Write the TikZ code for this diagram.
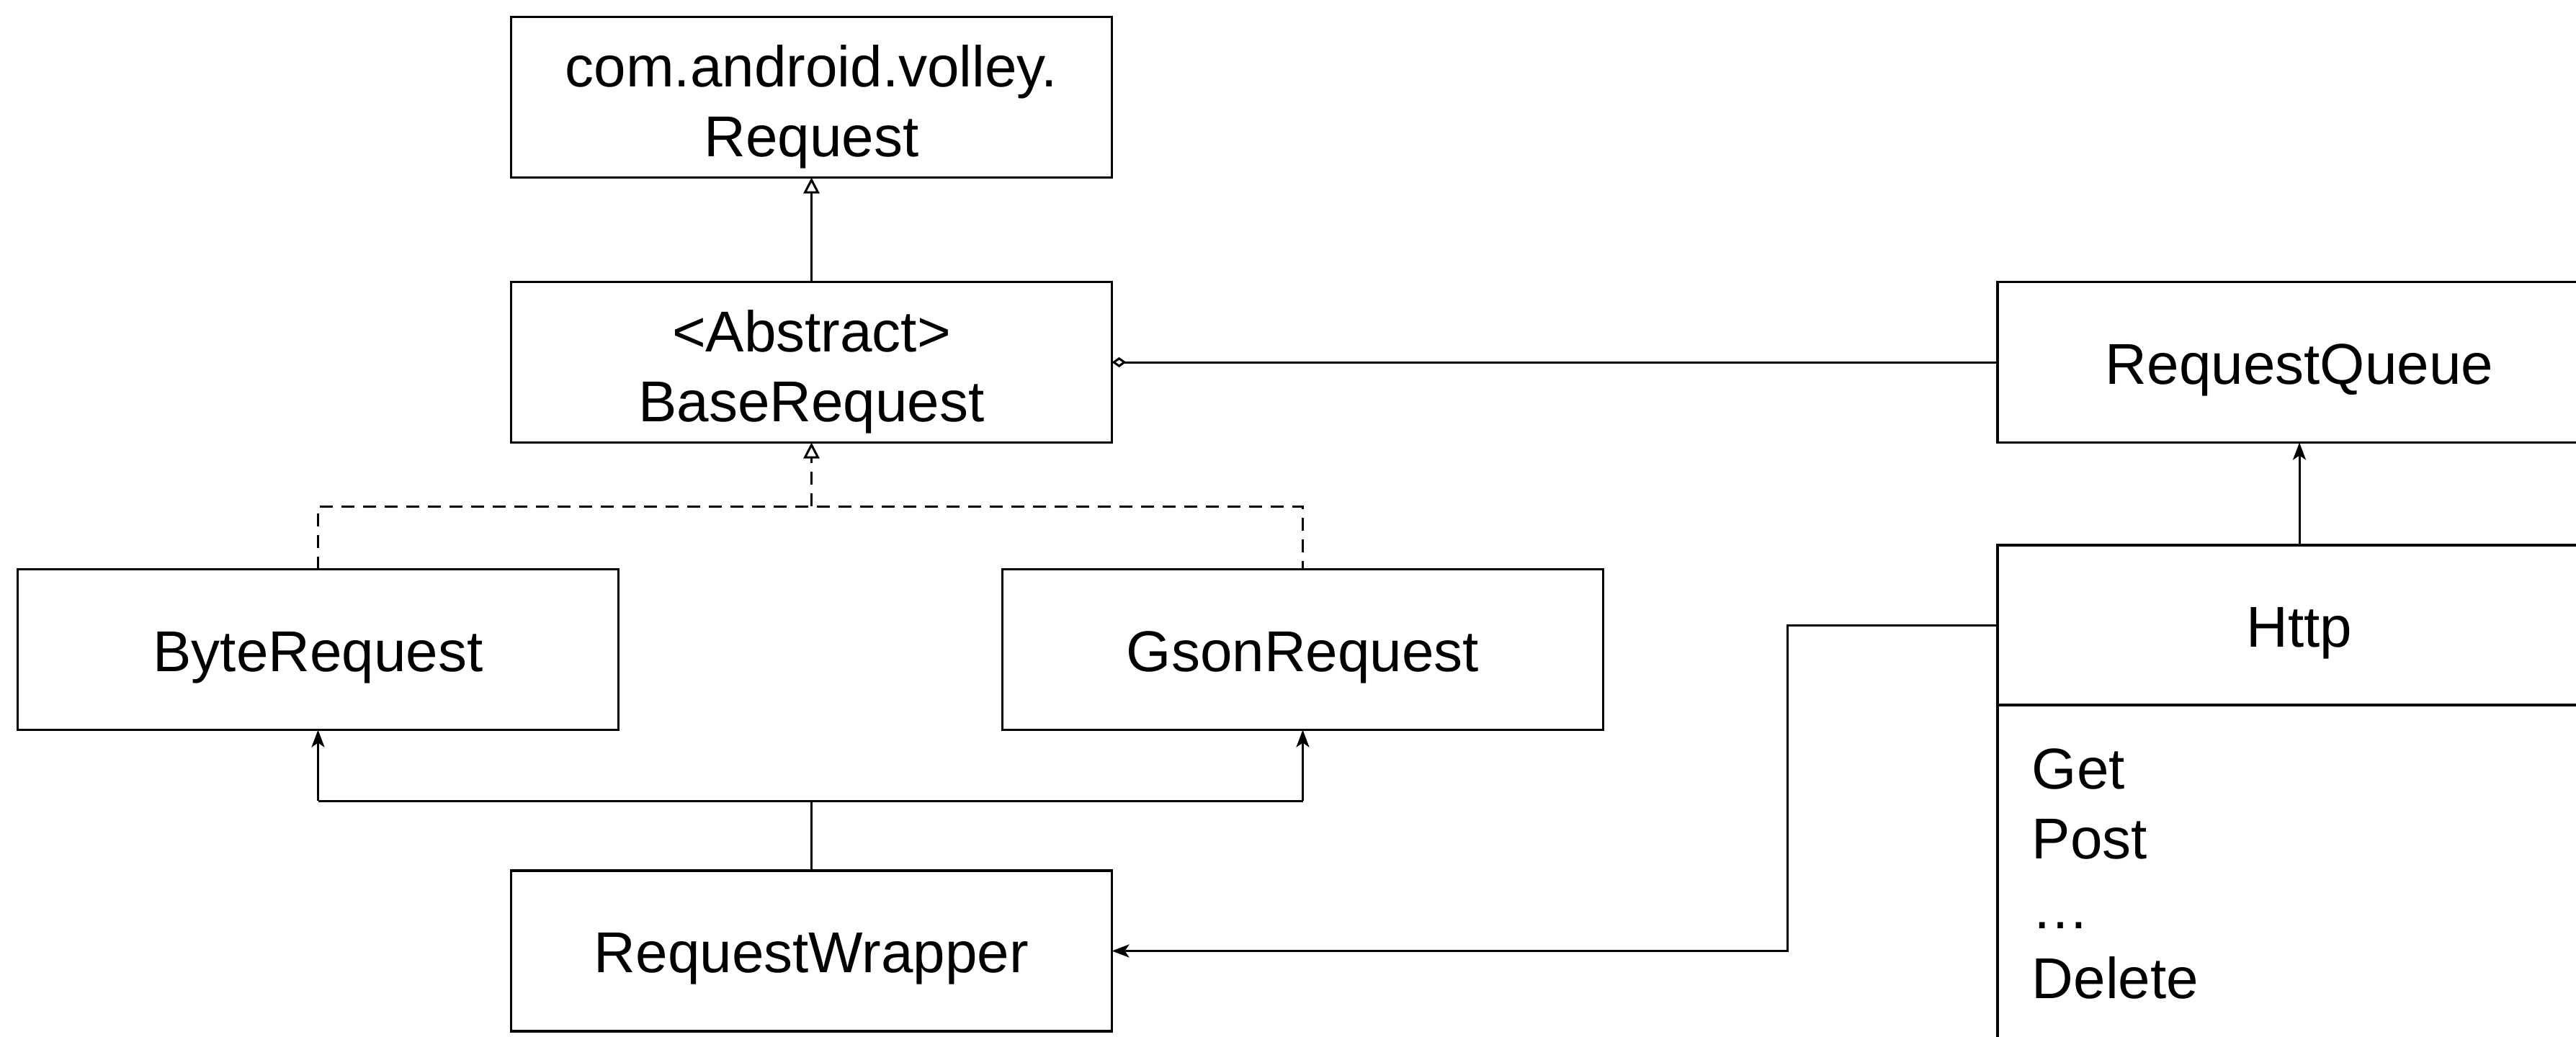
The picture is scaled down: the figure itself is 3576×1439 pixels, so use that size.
\documentclass[tikz,border=0pt]{standalone}
\usepackage{fontspec}
\setmainfont{Liberation Sans}
\usetikzlibrary{arrows.meta}
\begin{document}
\begin{tikzpicture}[x=0.25pt,y=-0.25pt,
  box/.style={draw, line width=0.9pt, minimum width=208.5pt, minimum height=55.75pt,
    inner sep=0pt, outer sep=0pt, align=center, font=\fontsize{20}{24.25}\selectfont,
    text height=15pt, text depth=0pt},
  twoline/.style={text height=41pt, text depth=0pt},
  optext/.style={anchor=base west, inner sep=0pt, font=\fontsize{20}{24.25}\selectfont},
  conn/.style={line width=0.75pt},
  dashedconn/.style={conn, dash pattern=on 4.5pt off 3pt},
  inherit/.style={conn, -{Triangle[open, length=5.5pt, width=5.5pt]}},
  realize/.style={dashedconn, -{Triangle[open, length=5.5pt, width=5.5pt]}},
  assoc/.style={conn, -{Stealth[length=6pt, width=4.5pt, inset=1.5pt]}},
  aggr/.style={conn, -{Diamond[open, length=5pt, width=3.5pt]}}
]
\useasboundingbox (0,0) rectangle (3576,1439);
\clip (0,0) rectangle (3576,1439);

% class boxes
\node[box, twoline] (req)  at (1126.5,135)   {com.android.volley.\\Request};
\node[box, twoline] (base) at (1126.5,503)   {<Abstract>\\BaseRequest};
\node[box] (byte) at (441.5,902)    {ByteRequest};
\node[box] (gson) at (1808.5,902)   {GsonRequest};
\node[box] (wrap) at (1126.5,1320.5){RequestWrapper};
\node[box, minimum width=209.5pt] (queue) at (3192,503) {RequestQueue};
\node[box, minimum width=209.5pt, minimum height=55.5pt] (http) at (3192,868) {Http};
\node[draw, line width=0.9pt, anchor=north, minimum width=209.5pt, minimum height=132pt,
  inner sep=0pt, outer sep=0pt] (httpops) at (http.south) {};

% operations
\node[optext] (opget)  at (2820,1095) {Get};
\node[optext] (oppost) at (2820,1192) {Post};
\node[optext] (opdots) at (2820,1289) {…};
\node[optext] (opdel)  at (2820,1386) {Delete};

% generalization
\draw[inherit] (base.north) -- (req.south);

% realization (dashed)
\coordinate (dmid) at (1126.5,703);
\draw[dashedconn] (byte.north) -- (byte.north |- dmid) -- (gson.north |- dmid) -- (gson.north);
\draw[realize] (dmid) -- (base.south);

% aggregation
\draw[aggr] (queue.west) -- (base.east);

% associations
\draw[assoc] (http.north) -- (queue.south);

\coordinate (wmid) at (1126.5,1112);
\draw[conn] (wrap.north) -- (wmid);
\draw[conn] (byte.south |- wmid) -- (gson.south |- wmid);
\draw[assoc] (byte.south |- wmid) -- (byte.south);
\draw[assoc] (gson.south |- wmid) -- (gson.south);

\coordinate (hbend) at (2481,868);
\draw[assoc] (http.west) -- (hbend) |- (wrap.east);
\end{tikzpicture}
\end{document}
